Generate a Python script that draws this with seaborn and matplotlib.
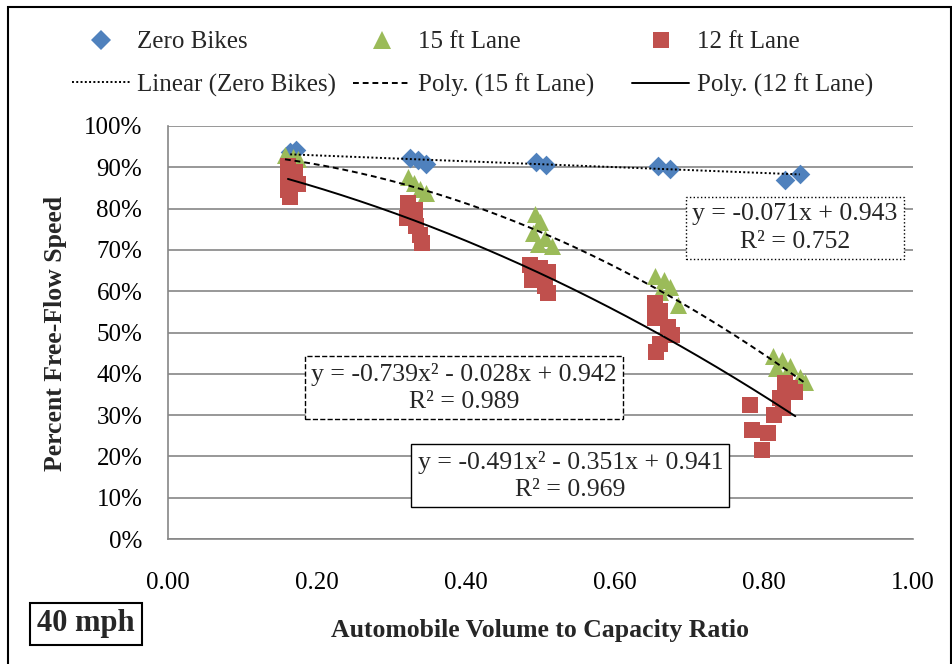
import numpy as np
import pandas as pd
import matplotlib
matplotlib.use("Agg")
import matplotlib.pyplot as plt
import seaborn as sns
from matplotlib.lines import Line2D
from matplotlib.patches import Rectangle

# ---- measured points: percent of free-flow speed vs. v/c ratio ----
zero_x = [0.164, 0.172, 0.325, 0.336, 0.346, 0.494, 0.507, 0.658, 0.674, 0.828, 0.848]
zero_y = [0.937, 0.942, 0.923, 0.918, 0.908, 0.913, 0.906, 0.903, 0.896, 0.869, 0.884]

lane15_x = [0.157, 0.168, 0.174, 0.322, 0.330, 0.338, 0.346,
            0.493, 0.499, 0.490, 0.506, 0.515, 0.497,
            0.654, 0.666, 0.674, 0.660, 0.685,
            0.812, 0.824, 0.835, 0.816, 0.848, 0.855, 0.835]
lane15_y = [0.930, 0.925, 0.920, 0.877, 0.862, 0.847, 0.838,
            0.787, 0.768, 0.741, 0.729, 0.709, 0.714,
            0.637, 0.627, 0.610, 0.598, 0.567,
            0.443, 0.433, 0.419, 0.414, 0.392, 0.380, 0.361]

lane12_x = [0.161, 0.170, 0.161, 0.174, 0.161, 0.164,
            0.322, 0.332, 0.321, 0.333, 0.338, 0.341,
            0.486, 0.499, 0.510, 0.489, 0.506, 0.510,
            0.654, 0.660, 0.654, 0.671, 0.677, 0.660, 0.655,
            0.781, 0.784, 0.797, 0.805, 0.813, 0.821, 0.835, 0.828, 0.842, 0.826]
lane12_y = [0.903, 0.889, 0.869, 0.860, 0.845, 0.828,
            0.814, 0.797, 0.777, 0.758, 0.736, 0.717,
            0.663, 0.656, 0.646, 0.627, 0.613, 0.596,
            0.571, 0.552, 0.535, 0.513, 0.494, 0.472, 0.453,
            0.324, 0.264, 0.215, 0.257, 0.300, 0.341, 0.366, 0.378, 0.356, 0.317]

# ---- trendline coefficients (highest power first) and fit quality ----
linear_zero = [-0.071, 0.943]
r2_zero = 0.752
poly_15 = [-0.739, -0.028, 0.942]
r2_15 = 0.989
poly_12 = [-0.491, -0.351, 0.941]
r2_12 = 0.969

series_names = ["Zero Bikes", "15 ft Lane", "12 ft Lane"]
trend_names = ["Linear (Zero Bikes)", "Poly. (15 ft Lane)", "Poly. (12 ft Lane)"]
x_ticks = [0.0, 0.2, 0.4, 0.6, 0.8, 1.0]
y_ticks = [0.0, 0.1, 0.2, 0.3, 0.4, 0.5, 0.6, 0.7, 0.8, 0.9, 1.0]
x_label = "Automobile Volume to Capacity Ratio"
y_label = "Percent Free-Flow Speed"
speed_tag = "40 mph"

colors = ["#4F81BD", "#9BBB59", "#C0504D"]
markers = ["D", "^", "s"]
sizes = [100, 150, 128]
trend_styles = [(0, (1, 1.2)), (0, (3, 2)), "-"]

sns.set_theme(style="white")
plt.rcParams["font.family"] = ["Liberation Serif", "DejaVu Serif"]

W, H = 953, 664
fig = plt.figure(figsize=(W / 100, H / 100), dpi=100)
ax = fig.add_axes([168 / W, 1 - 539 / H, (913 - 168) / W, (539 - 126) / H])

frames = []
for name, xs, ys in zip(series_names, [zero_x, lane15_x, lane12_x], [zero_y, lane15_y, lane12_y]):
    frames.append(pd.DataFrame({"vc": xs, "pffs": ys, "series": name}))
df = pd.concat(frames, ignore_index=True)

for name, col, mk, sz in zip(series_names, colors, markers, sizes):
    sub = df[df["series"] == name]
    sns.scatterplot(data=sub, x="vc", y="pffs", color=col, marker=mk, s=sz,
                    linewidth=0, ax=ax, legend=False, zorder=3)

# trendlines over each series' observed range
for name, coefs, ls in zip(series_names, [linear_zero, poly_15, poly_12], trend_styles):
    sub = df[df["series"] == name]
    xx = np.linspace(sub["vc"].min(), sub["vc"].max(), 200)
    ax.plot(xx, np.polyval(coefs, xx), color="black", linestyle=ls, lw=1.4, zorder=4)


def equation(coefs):
    deg = len(coefs) - 1
    parts = []
    for i, c in enumerate(coefs):
        p = deg - i
        term = f"{abs(c):.3f}"
        if p == 2:
            term += "x²"
        elif p == 1:
            term += "x"
        if i == 0:
            parts.append(("-" if c < 0 else "") + term)
        else:
            parts.append(("- " if c < 0 else "+ ") + term)
    return "y = " + " ".join(parts)


eq_specs = [
    (linear_zero, r2_zero, (0.8416, 0.753), ":"),
    (poly_15, r2_15, (0.397, 0.366), "--"),
    (poly_12, r2_12, (0.540, 0.153), "-"),
]
for coefs, r2, (tx, ty), bls in eq_specs:
    ax.text(tx, ty, f"{equation(coefs)}\nR² = {r2:.3f}", ha="center", va="center",
            fontsize=18.5, linespacing=1.3, zorder=5,
            bbox=dict(boxstyle="square,pad=0.25", fc="white", ec="black", lw=1.0, ls=bls))

ax.set_xlim(0, 1)
ax.set_ylim(0, 1)
ax.set_xticks(x_ticks)
ax.set_yticks(y_ticks)
ax.set_xticklabels([f"{v:.2f}" for v in x_ticks])
ax.set_yticklabels([f"{v:.0%}" for v in y_ticks])
ax.tick_params(axis="both", direction="out", length=6.5, width=1.2, color="#868686",
               labelsize=18, labelcolor="black")
ax.tick_params(axis="y", pad=12)
ax.tick_params(axis="x", pad=17)
ax.yaxis.grid(True, color="#868686", lw=1.2)
ax.xaxis.grid(False)
ax.set_axisbelow(True)
for s in ["top", "right"]:
    ax.spines[s].set_visible(False)
for s in ["left", "bottom"]:
    ax.spines[s].set_color("#868686")
    ax.spines[s].set_linewidth(1.2)
ax.set_xlabel("")
ax.set_ylabel("")

fig.text(540 / W, 1 - 631 / H, x_label, ha="center", va="center", fontsize=18.5, fontweight="bold")
fig.text(56 / W, 1 - 333 / H, y_label, ha="center", va="center", rotation=90,
         fontsize=18.5, fontweight="bold")
fig.text(86 / W, 1 - 624 / H, speed_tag, ha="center", va="center", fontsize=22, fontweight="bold",
         bbox=dict(boxstyle="square,pad=0.22", fc="white", ec="black", lw=1.5))

# legend: one column per series (marker on top, trendline below)
col_x = [72, 353, 632]
for i in range(3):
    h_mark = Line2D([], [], ls="none", marker=markers[i], color=colors[i],
                    markersize=np.sqrt(sizes[i]), markeredgewidth=0)
    h_line = Line2D([], [], color="black", ls=trend_styles[i], lw=1.4)
    fig.legend([h_mark, h_line], [series_names[i], trend_names[i]],
               loc="upper left", bbox_to_anchor=(col_x[i] / W, 1 - 31 / H),
               frameon=False, fontsize=18, handlelength=2.3, handletextpad=0.3,
               labelspacing=0.8, borderpad=0, borderaxespad=0)

fig.add_artist(Rectangle((8 / W, -0.01), (951 - 8) / W, 1 - 7 / H + 0.01,
                         transform=fig.transFigure, fill=False, ec="black", lw=1.5))

fig.savefig("out.png", dpi=100)
